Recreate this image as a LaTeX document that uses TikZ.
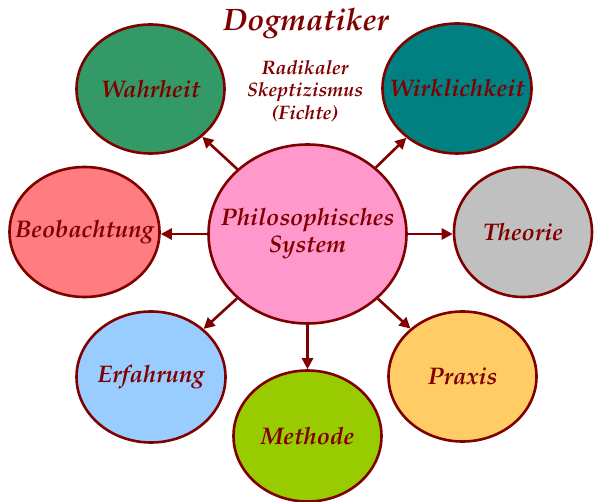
\documentclass[tikz,border=0pt]{standalone}
\usepackage[T1]{fontenc}
\renewcommand{\rmdefault}{ppl}
\usetikzlibrary{shapes.geometric,arrows.meta}

\definecolor{ink}{RGB}{128,0,0}
\definecolor{cSys}{RGB}{255,153,204}
\definecolor{cWahr}{RGB}{51,153,102}
\definecolor{cWirk}{RGB}{0,128,128}
\definecolor{cBeob}{RGB}{255,124,128}
\definecolor{cTheo}{RGB}{192,192,192}
\definecolor{cErf}{RGB}{153,204,255}
\definecolor{cMeth}{RGB}{153,204,0}
\definecolor{cPrax}{RGB}{255,204,102}

\tikzset{
  bubble/.style={ellipse, draw=ink, line width=2.6pt, inner sep=0pt},
  word/.style={text=ink, align=center, inner sep=0pt,
    font=\fontsize{24}{27}\selectfont\bfseries\itshape},
  link/.style={draw=ink, line width=2.6pt,
    -{Triangle[length=11pt,width=11pt]}},
  label/.style={text=ink, align=center}
}

\begin{document}
\begin{tikzpicture}[x=1pt,y=-1pt]
  \useasboundingbox (0,0) rectangle (594,502);

  % central concept
  \node[bubble, fill=cSys, minimum width=198pt, minimum height=179pt]
    (sys) at (307.5,234) {};
  \node[word] (sysT) at (sys.center) {Philosophisches\\System};

  % surrounding concepts
  \node[bubble, fill=cWahr, minimum width=148pt, minimum height=129pt]
    (wahr) at (150.5,89) {};
  \node[bubble, fill=cWirk, minimum width=149pt, minimum height=130pt]
    (wirk) at (457,88.5) {};
  \node[bubble, fill=cBeob, minimum width=150pt, minimum height=130pt]
    (beob) at (84.5,232) {};
  \node[bubble, fill=cTheo, minimum width=138pt, minimum height=130pt]
    (theo) at (523,232) {};
  \node[bubble, fill=cErf, minimum width=149pt, minimum height=131pt]
    (erf) at (151,377) {};
  \node[bubble, fill=cMeth, minimum width=148pt, minimum height=131pt]
    (meth) at (307.5,436) {};
  \node[bubble, fill=cPrax, minimum width=148pt, minimum height=130pt]
    (prax) at (462.5,376.5) {};

  \node[word] (wahrT) at (wahr.center) {Wahrheit};
  \node[word] (wirkT) at (wirk.center) {Wirklichkeit};
  \node[word] (beobT) at (beob.center) {Beobachtung};
  \node[word] (theoT) at (theo.center) {Theorie};
  \node[word] (erfT)  at (erf.center)  {Erfahrung};
  \node[word] (methT) at (meth.center) {Methode};
  \node[word] (praxT) at (prax.center) {Praxis};

  % headings
  \node[label, font=\fontsize{31}{33}\selectfont\bfseries\itshape]
    (dogma) at (306,24) {Dogmatiker};
  \node[label, font=\fontsize{19.5}{22.5}\selectfont\bfseries\itshape]
    (skep) at (305,91) {Radikaler\\Skeptizismus\\(Fichte)};

  % connectors from the centre outwards
  \draw[link] (sys) -- (wahr);
  \draw[link] (sys) -- (wirk);
  \draw[link] (sys.west) -- (sys.west -| beob.east);
  \draw[link] (sys.east) -- (sys.east -| theo.west);
  \draw[link] (sys) -- (erf);
  \draw[link] (sys.south) -- (meth.north);
  \draw[link] (sys) -- (prax);
\end{tikzpicture}
\end{document}
